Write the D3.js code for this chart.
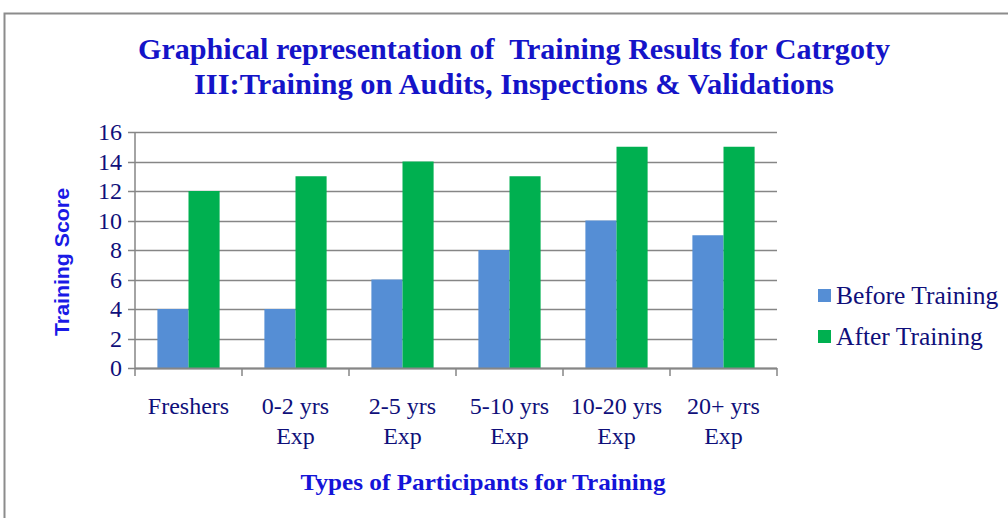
<!DOCTYPE html>
<html>
<head>
<meta charset="utf-8">
<script src="https://cdn.jsdelivr.net/npm/d3@7"></script>
<style>
  body { margin: 0; background: #fff; }
</style>
</head>
<body>
<div id="mainDiv"></div>
<script>
// chart data
var categories = [["Freshers"], ["0-2 yrs", "Exp"], ["2-5 yrs", "Exp"], ["5-10 yrs", "Exp"], ["10-20 yrs", "Exp"], ["20+ yrs", "Exp"]];
var seriesNames = ["Before Training", "After Training"];
var beforeValues = [4, 4, 6, 8, 10, 9];
var afterValues = [12, 13, 14, 13, 15, 15];
var yTicks = [0, 2, 4, 6, 8, 10, 12, 14, 16];
var colors = ["#558ED5", "#00B050"];

var width = 1008, height = 518;
var plotLeft = 135, plotRight = 777, plotTop = 132, plotBottom = 368;
var serif = "Liberation Serif, Times New Roman, serif";
var textColor = "#0f0f7a";

var svg = d3.select("#mainDiv").append("svg")
    .attr("width", width)
    .attr("height", height);

// outer frame
svg.append("path")
    .attr("d", "M4.5,518 V13.5 H1008")
    .attr("fill", "none")
    .attr("stroke", "#8c8c8c")
    .attr("stroke-width", 2);

var x0 = d3.scaleBand().domain(d3.range(categories.length)).range([plotLeft, plotRight]);
var x1 = d3.scaleBand().domain([0, 1]).range([0, x0.bandwidth()]).paddingOuter(0.72);
var y = d3.scaleLinear().domain([0, 16]).range([plotBottom, plotTop]);

// gridlines
svg.append("g").selectAll("line")
    .data(yTicks)
    .join("line")
    .attr("x1", plotLeft - 7).attr("x2", plotRight)
    .attr("y1", d => Math.round(y(d)) + 0.5).attr("y2", d => Math.round(y(d)) + 0.5)
    .attr("stroke", "#868686").attr("stroke-width", 1.5);

// y axis line
svg.append("line")
    .attr("x1", plotLeft).attr("x2", plotLeft)
    .attr("y1", plotTop).attr("y2", plotBottom)
    .attr("stroke", "#868686").attr("stroke-width", 1.5);

// y tick labels
svg.append("g").selectAll("text")
    .data(yTicks)
    .join("text")
    .attr("x", plotLeft - 13)
    .attr("y", d => y(d) + 8)
    .attr("text-anchor", "end")
    .attr("font-family", serif)
    .attr("font-size", 24)
    .attr("fill", textColor)
    .text(d => d);

// bars
var rows = categories.map((c, i) => [beforeValues[i], afterValues[i]]);
var groups = svg.append("g").selectAll("g")
    .data(rows)
    .join("g")
    .attr("transform", (d, i) => "translate(" + x0(i) + ",0)");

groups.selectAll("rect")
    .data(d => d)
    .join("rect")
    .attr("x", (d, j) => x1(j))
    .attr("width", x1.bandwidth())
    .attr("y", d => y(d))
    .attr("height", d => plotBottom - y(d))
    .attr("fill", (d, j) => colors[j]);

// x axis line + ticks
svg.append("line")
    .attr("x1", plotLeft).attr("x2", plotRight)
    .attr("y1", plotBottom + 0.5).attr("y2", plotBottom + 0.5)
    .attr("stroke", "#868686").attr("stroke-width", 2);

svg.append("g").selectAll("line")
    .data(d3.range(categories.length + 1))
    .join("line")
    .attr("x1", d => plotLeft + d * x0.bandwidth())
    .attr("x2", d => plotLeft + d * x0.bandwidth())
    .attr("y1", plotBottom).attr("y2", plotBottom + 8)
    .attr("stroke", "#868686").attr("stroke-width", 1.5);

// x labels
var xl = svg.append("g").selectAll("text")
    .data(categories)
    .join("text")
    .attr("x", (d, i) => x0(i) + x0.bandwidth() / 2)
    .attr("y", 414)
    .attr("text-anchor", "middle")
    .attr("font-family", serif)
    .attr("font-size", 24)
    .attr("fill", textColor);

xl.selectAll("tspan")
    .data(d => d)
    .join("tspan")
    .attr("x", function () { return d3.select(this.parentNode).attr("x"); })
    .attr("dy", (d, j) => j === 0 ? 0 : 30)
    .text(d => d);

// title
var title = svg.append("text")
    .attr("text-anchor", "middle")
    .attr("font-family", serif)
    .attr("font-weight", "bold")
    .attr("font-size", 29)
    .attr("fill", "#1414c8")
    .style("white-space", "pre");
title.append("tspan").attr("x", 514).attr("y", 59)
    .attr("textLength", 752).attr("lengthAdjust", "spacingAndGlyphs")
    .text("Graphical representation of  Training Results for Catrgoty");
title.append("tspan").attr("x", 514).attr("y", 94)
    .attr("textLength", 640).attr("lengthAdjust", "spacingAndGlyphs")
    .text("III:Training on Audits, Inspections & Validations");

// axis titles
svg.append("text")
    .attr("transform", "translate(69,262) rotate(-90)")
    .attr("text-anchor", "middle")
    .attr("font-family", "Liberation Sans, Arial, sans-serif")
    .attr("font-weight", "bold")
    .attr("font-size", 21)
    .attr("textLength", 148)
    .attr("lengthAdjust", "spacingAndGlyphs")
    .attr("fill", "#1a1ae6")
    .text("Training Score");

svg.append("text")
    .attr("x", 483)
    .attr("y", 490)
    .attr("text-anchor", "middle")
    .attr("font-family", serif)
    .attr("font-weight", "bold")
    .attr("font-size", 24)
    .attr("textLength", 365)
    .attr("lengthAdjust", "spacingAndGlyphs")
    .attr("fill", "#1414d8")
    .text("Types of Participants for Training");

// legend
var legend = svg.append("g").selectAll("g")
    .data(seriesNames)
    .join("g")
    .attr("transform", (d, i) => "translate(818," + (289 + i * 41) + ")");
legend.append("rect")
    .attr("width", 13).attr("height", 13)
    .attr("fill", (d, i) => colors[i]);
legend.append("text")
    .attr("x", 18).attr("y", 15)
    .attr("font-family", serif)
    .attr("font-size", 25.5)
    .attr("fill", textColor)
    .text(d => d);
</script>
</body>
</html>
